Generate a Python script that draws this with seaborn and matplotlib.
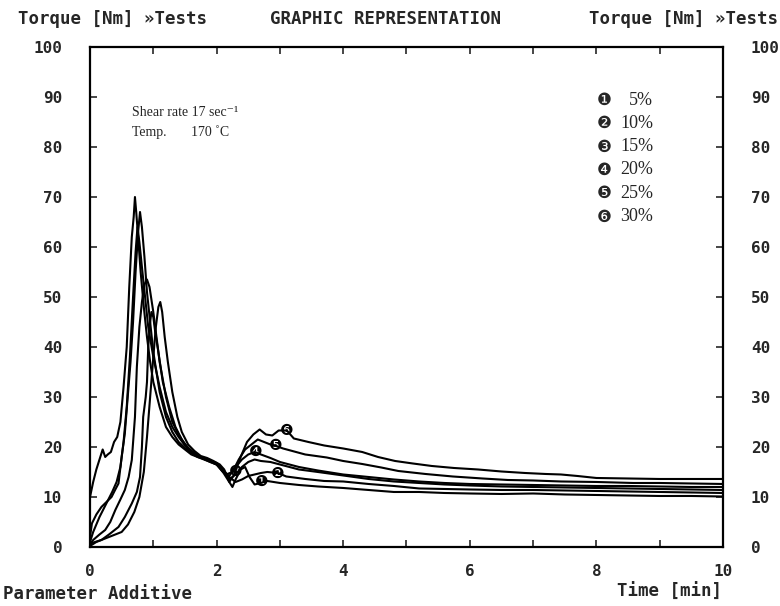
import matplotlib
matplotlib.use("Agg")
import matplotlib.pyplot as plt
import seaborn as sns
import pandas as pd

# ---- data (time [min], torque [Nm]) ----
c_5 = [(0, 10), (0.05, 13), (0.1, 15.5), (0.15, 17.5), (0.2, 19.5), (0.24, 18), (0.28, 18.5),
       (0.33, 19), (0.38, 21), (0.43, 22), (0.48, 25), (0.53, 32), (0.58, 40), (0.62, 52),
       (0.66, 62), (0.69, 66), (0.71, 70), (0.73, 67), (0.76, 62), (0.8, 55), (0.85, 48),
       (0.9, 42), (0.95, 37), (1.0, 33), (1.1, 28), (1.2, 24), (1.3, 22), (1.4, 20.5), (1.5, 19.5),
       (1.6, 18.5), (1.7, 18), (1.8, 17.5), (1.9, 17), (2.0, 16.5), (2.1, 15), (2.2, 13),
       (2.25, 12), (2.3, 13.5), (2.38, 15.5), (2.45, 16), (2.52, 14), (2.6, 12.5), (2.7, 12.8),
       (2.8, 13.2), (3.0, 12.8), (3.3, 12.4), (3.6, 12.1), (4.0, 11.8), (4.4, 11.4), (4.8, 11.0),
       (5.2, 11.0), (5.6, 10.8), (6.0, 10.7), (6.5, 10.6), (7.0, 10.7), (7.5, 10.5), (8.0, 10.4),
       (8.5, 10.3), (9.0, 10.2), (9.5, 10.2), (10.0, 10.1)]
c_10 = [(0, 2), (0.03, 4.7), (0.1, 6.5), (0.18, 8), (0.26, 9), (0.34, 10), (0.4, 11.5),
        (0.45, 12.7), (0.5, 18), (0.55, 22.7), (0.6, 30.7), (0.64, 37), (0.68, 45), (0.72, 55),
        (0.76, 63), (0.79, 67), (0.82, 64), (0.86, 58), (0.9, 51), (0.95, 45), (1.0, 39),
        (1.05, 35), (1.1, 31), (1.2, 26), (1.3, 23), (1.4, 21), (1.5, 19.8), (1.6, 18.8),
        (1.7, 18), (1.8, 17.6), (1.9, 17), (2.0, 16.5), (2.1, 15.5), (2.2, 14), (2.3, 13),
        (2.4, 13.5), (2.5, 14.2), (2.6, 14.5), (2.7, 14.8), (2.8, 15), (2.97, 14.8), (3.1, 14.1),
        (3.4, 13.6), (3.7, 13.2), (4.0, 13.1), (4.4, 12.6), (4.8, 12.2), (5.2, 11.7), (5.6, 11.6),
        (6.0, 11.5), (6.5, 11.4), (7.0, 11.4), (7.5, 11.3), (8.0, 11.2), (8.5, 11.1), (9.0, 11.0),
        (9.5, 10.9), (10.0, 10.8)]
c_15 = [(0, 1), (0.05, 3), (0.15, 6), (0.25, 8.5), (0.35, 11), (0.42, 13), (0.48, 16), (0.53, 21),
        (0.58, 28), (0.63, 38), (0.68, 50), (0.72, 59), (0.75, 64), (0.78, 61), (0.82, 56),
        (0.87, 50), (0.92, 44), (1.0, 38), (1.1, 32), (1.2, 27), (1.3, 24), (1.4, 22), (1.5, 20.3),
        (1.6, 19), (1.7, 18.2), (1.8, 17.8), (1.9, 17.2), (2.0, 16.8), (2.1, 15.5), (2.2, 13.5),
        (2.3, 14.5), (2.4, 16), (2.5, 17), (2.6, 17.5), (2.7, 17.2), (2.85, 17), (3.0, 16.5),
        (3.3, 15.5), (3.6, 15), (4.0, 14.3), (4.4, 13.6), (4.8, 13.1), (5.2, 12.8), (5.6, 12.5),
        (6.0, 12.3), (6.5, 12.1), (7.0, 12.0), (7.5, 11.9), (8.0, 11.8), (8.5, 11.7), (9.0, 11.6),
        (9.5, 11.5), (10.0, 11.4)]
c_20 = [(0, 0.5), (0.05, 1.4), (0.15, 2.5), (0.24, 3.4), (0.32, 5), (0.4, 7.4), (0.48, 9.5),
        (0.55, 11.4), (0.61, 14), (0.66, 17.4), (0.71, 26), (0.74, 36), (0.78, 44), (0.82, 49),
        (0.86, 52.5), (0.9, 53.5), (0.94, 52), (1.0, 47), (1.05, 42), (1.1, 37), (1.2, 30),
        (1.3, 25), (1.4, 22.5), (1.5, 20.5), (1.6, 19.2), (1.7, 18.3), (1.8, 17.6), (1.9, 17.2),
        (2.0, 16.5), (2.1, 15), (2.2, 14.2), (2.3, 16), (2.4, 17.5), (2.5, 18.5), (2.6, 19),
        (2.7, 18.5), (2.85, 17.8), (3.0, 17), (3.3, 16), (3.6, 15.3), (4.0, 14.5), (4.4, 14),
        (4.8, 13.5), (5.2, 13.1), (5.6, 12.8), (6.0, 12.6), (6.5, 12.5), (7.0, 12.4), (7.5, 12.3),
        (8.0, 12.2), (8.5, 12.2), (9.0, 12.1), (9.5, 12.0), (10.0, 12.0)]
c_25 = [(0, 0.3), (0.03, 0.8), (0.18, 1.4), (0.3, 2.5), (0.45, 4), (0.55, 6), (0.66, 8.7),
        (0.74, 11), (0.79, 14), (0.82, 20), (0.84, 26), (0.88, 30), (0.9, 33), (0.92, 40),
        (0.95, 45), (0.97, 47), (1.0, 46), (1.03, 43), (1.08, 39), (1.15, 33), (1.25, 28),
        (1.35, 24), (1.45, 21.5), (1.55, 19.8), (1.65, 18.8), (1.75, 18), (1.85, 17.5), (1.95, 17),
        (2.05, 16), (2.15, 14.5), (2.25, 15), (2.35, 17.5), (2.45, 19.5), (2.55, 20.5),
        (2.65, 21.5), (2.75, 21), (2.85, 20.5), (2.94, 20.2), (3.05, 19.7), (3.4, 18.5),
        (3.74, 17.9), (4.0, 17.2), (4.3, 16.6), (4.6, 15.9), (4.87, 15.2), (5.3, 14.6),
        (5.73, 14.1), (6.2, 13.7), (6.6, 13.4), (7.0, 13.3), (7.44, 13.1), (8.0, 13.0),
        (8.58, 12.8), (9.0, 12.8), (9.5, 12.7), (10.0, 12.6)]
c_30 = [(0, 0.2), (0.1, 1), (0.2, 1.5), (0.3, 2), (0.4, 2.5), (0.5, 3), (0.6, 4.5), (0.7, 7),
        (0.78, 10), (0.85, 15), (0.9, 22), (0.95, 30), (1.0, 38), (1.04, 44), (1.08, 48),
        (1.11, 49), (1.14, 47), (1.18, 42), (1.23, 37), (1.3, 31), (1.38, 26), (1.45, 23),
        (1.55, 20.5), (1.65, 19.2), (1.75, 18.2), (1.85, 17.8), (1.95, 17.2), (2.05, 16.5),
        (2.12, 15.5), (2.2, 13), (2.28, 14.5), (2.38, 18), (2.48, 21), (2.58, 22.5), (2.68, 23.5),
        (2.78, 22.5), (2.88, 22.3), (2.98, 23.3), (3.11, 23.3), (3.22, 21.7), (3.45, 21),
        (3.7, 20.3), (4.0, 19.7), (4.3, 19), (4.55, 18), (4.82, 17.2), (5.1, 16.7), (5.4, 16.2),
        (5.75, 15.8), (6.13, 15.5), (6.5, 15.1), (6.87, 14.8), (7.2, 14.6), (7.44, 14.5),
        (7.7, 14.2), (8.0, 13.8), (8.5, 13.7), (9.0, 13.6), (9.5, 13.6), (10.0, 13.6)]

series_names = ["5%", "10%", "15%", "20%", "25%", "30%"]
series_data = [c_5, c_10, c_15, c_20, c_25, c_30]
markers = ["\u2776", "\u2777", "\u2778", "\u2779", "\u277a", "\u277b"]
marker_pos = [(2.71, 13.2), (2.97, 14.8), (2.3, 15.0), (2.62, 19.1), (2.94, 20.2), (3.11, 23.3)]

x_ticks = [0, 2, 4, 6, 8, 10]
y_ticks = [0, 10, 20, 30, 40, 50, 60, 70, 80, 90, 100]

rows = []
for name, pts in zip(series_names, series_data):
    for i, (t, v) in enumerate(pts):
        rows.append({"curve": name, "order": i, "t": t, "v": v})
df = pd.DataFrame(rows)

sns.set_style("white")
mono = ["DejaVu Sans Mono"]
serif = ["Liberation Serif", "DejaVu Serif"]
plt.rcParams["font.family"] = mono

fig = plt.figure(figsize=(7.8, 6.06), dpi=100)
ax = fig.add_axes([0.1154, 0.0974, 0.8115, 0.825])

sns.lineplot(data=df, x="t", y="v", units="curve", estimator=None, sort=False,
             color="black", lw=1.5, ax=ax, legend=False)

ax.set_xlim(0, 10)
ax.set_ylim(0, 100)
ax.set_xticks(range(0, 11))
ax.set_xticklabels([str(i) if i in x_ticks else "" for i in range(0, 11)])
ax.set_yticks(y_ticks)
ax.set_xlabel("")
ax.set_ylabel("")
for s in ax.spines.values():
    s.set_linewidth(1.6)
    s.set_color("black")
ax.tick_params(axis="x", direction="in", length=5, width=1.2, top=True, bottom=True,
               labelsize=11.5, pad=12)
ax.tick_params(axis="y", direction="in", length=5, width=1.2, left=True, right=True,
               labelleft=True, labelright=True, labelsize=11.5, pad=20)
for lab in ax.get_xticklabels() + ax.get_yticklabels():
    lab.set_fontweight("bold")

# circled curve labels
for m, (t, v) in zip(markers, marker_pos):
    ax.text(t, v, m, family=["DejaVu Sans"], fontsize=11, ha="center", va="center",
            color="black", zorder=5)

# legend block
for i, (m, name) in enumerate(zip(markers, series_names)):
    yv = 89.4 - i * 4.66
    ax.text(8.0, yv, m, family=["DejaVu Sans"], fontsize=12, ha="left", va="center")
    ax.text(8.9, yv, name, family=serif, fontsize=13, ha="right", va="center")

ax.text(0.66, 87.0, "Shear rate 17 sec\u207b\u00b9", family=serif, fontsize=10,
        ha="left", va="center")
ax.text(0.66, 83.0, "Temp.       170 \u02daC", family=serif, fontsize=10,
        ha="left", va="center")

# header / footer texts
fig.text(0.023, 0.969, "Torque [Nm] \u00bbTests", fontsize=12.5, fontweight="bold",
         ha="left", va="center")
fig.text(0.494, 0.969, "GRAPHIC REPRESENTATION", fontsize=12.5, fontweight="bold",
         ha="center", va="center")
fig.text(0.997, 0.969, "Torque [Nm] \u00bbTests", fontsize=12.5, fontweight="bold",
         ha="right", va="center")
fig.text(0.004, 0.02, "Parameter Additive", fontsize=12.5, fontweight="bold",
         ha="left", va="center")
fig.text(0.926, 0.023, "Time [min]", fontsize=12.5, fontweight="bold",
         ha="right", va="center")

fig.savefig("out.png", dpi=100, facecolor="white")
